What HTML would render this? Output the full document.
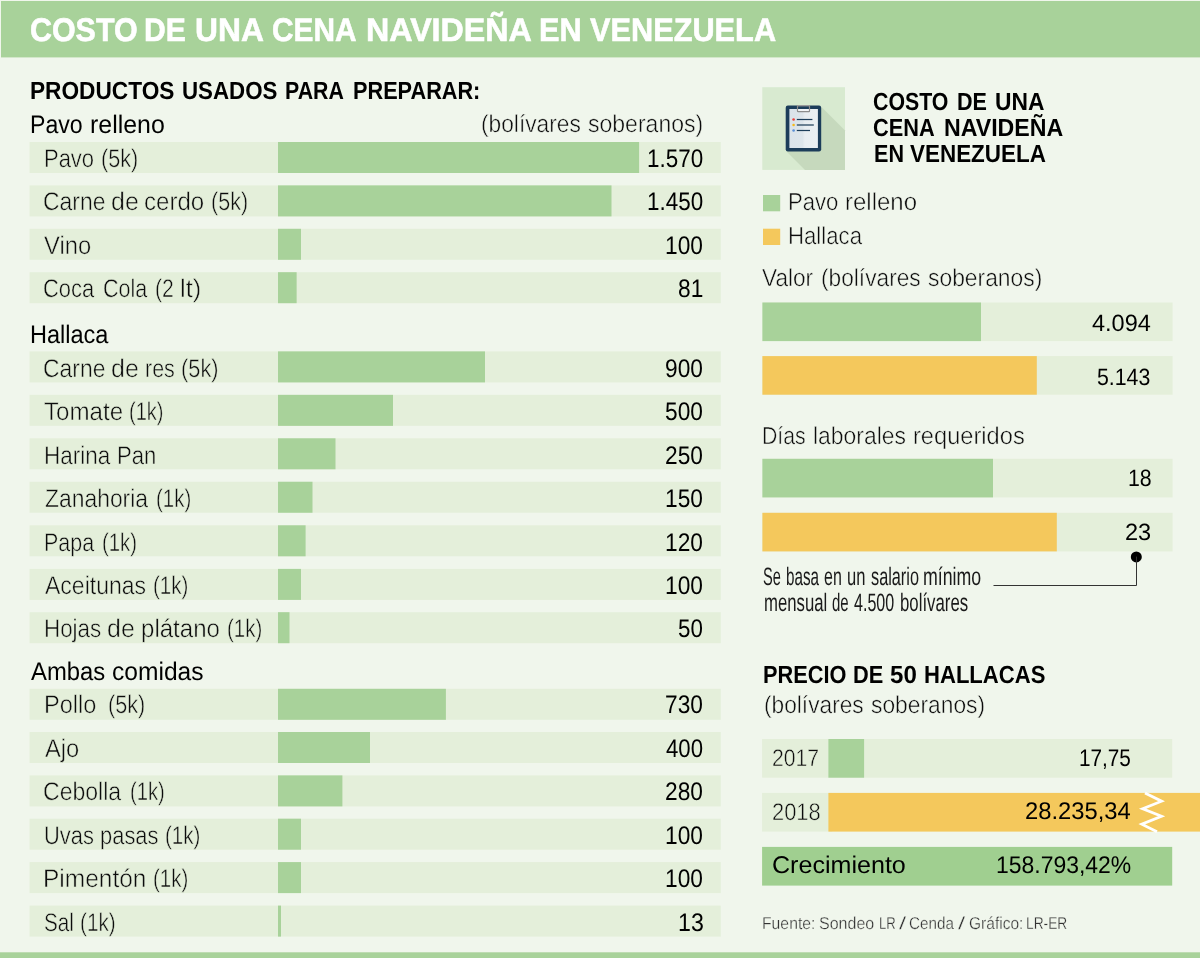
<!DOCTYPE html>
<html lang="es"><head><meta charset="utf-8"><title>Costo de una cena navideña en Venezuela</title>
<style>
html,body{margin:0;padding:0;background:#f0f6ec}
#w{width:1200px;height:958px;background:#f0f6ec;position:relative;overflow:hidden;will-change:transform;font-family:"Liberation Sans",sans-serif}
.t{position:absolute;white-space:pre;line-height:40px;transform-origin:0 0;text-rendering:geometricPrecision}
svg{position:absolute;left:0;top:0}
</style></head><body><div id="w">
<svg width="1200" height="958" viewBox="0 0 1200 958">
<rect x="1" y="1" width="1199" height="56.4" fill="#a8d29a"/>
<rect x="0" y="952.3" width="1200" height="6" fill="#a8d29a"/>
<rect x="29.6" y="142" width="691.2" height="31" fill="#e4efda"/>
<rect x="278" y="142" width="361.1" height="31" fill="#a8d29a"/>
<rect x="29.6" y="185.4" width="691.2" height="31" fill="#e4efda"/>
<rect x="278" y="185.4" width="333.5" height="31" fill="#a8d29a"/>
<rect x="29.6" y="228.8" width="691.2" height="31" fill="#e4efda"/>
<rect x="278" y="228.8" width="23" height="31" fill="#a8d29a"/>
<rect x="29.6" y="272.2" width="691.2" height="31" fill="#e4efda"/>
<rect x="278" y="272.2" width="18.63" height="31" fill="#a8d29a"/>
<rect x="29.6" y="351.4" width="691.2" height="31" fill="#e4efda"/>
<rect x="278" y="351.4" width="207" height="31" fill="#a8d29a"/>
<rect x="29.6" y="394.85" width="691.2" height="31" fill="#e4efda"/>
<rect x="278" y="394.85" width="115" height="31" fill="#a8d29a"/>
<rect x="29.6" y="438.3" width="691.2" height="31" fill="#e4efda"/>
<rect x="278" y="438.3" width="57.5" height="31" fill="#a8d29a"/>
<rect x="29.6" y="481.75" width="691.2" height="31" fill="#e4efda"/>
<rect x="278" y="481.75" width="34.5" height="31" fill="#a8d29a"/>
<rect x="29.6" y="525.3" width="691.2" height="31" fill="#e4efda"/>
<rect x="278" y="525.3" width="27.6" height="31" fill="#a8d29a"/>
<rect x="29.6" y="568.9" width="691.2" height="31" fill="#e4efda"/>
<rect x="278" y="568.9" width="23" height="31" fill="#a8d29a"/>
<rect x="29.6" y="612.2" width="691.2" height="31" fill="#e4efda"/>
<rect x="278" y="612.2" width="11.5" height="31" fill="#a8d29a"/>
<rect x="29.6" y="688.8" width="691.2" height="31" fill="#e4efda"/>
<rect x="278" y="688.8" width="167.9" height="31" fill="#a8d29a"/>
<rect x="29.6" y="732" width="691.2" height="31" fill="#e4efda"/>
<rect x="278" y="732" width="92" height="31" fill="#a8d29a"/>
<rect x="29.6" y="775.4" width="691.2" height="31" fill="#e4efda"/>
<rect x="278" y="775.4" width="64.4" height="31" fill="#a8d29a"/>
<rect x="29.6" y="818.7" width="691.2" height="31" fill="#e4efda"/>
<rect x="278" y="818.7" width="23" height="31" fill="#a8d29a"/>
<rect x="29.6" y="862.1" width="691.2" height="31" fill="#e4efda"/>
<rect x="278" y="862.1" width="23" height="31" fill="#a8d29a"/>
<rect x="29.6" y="905.6" width="691.2" height="31" fill="#e4efda"/>
<rect x="278" y="905.6" width="2.99" height="31" fill="#a8d29a"/>
<rect x="763" y="195" width="17.2" height="16.3" fill="#a8d29a"/>
<rect x="763" y="228.7" width="17.2" height="16.3" fill="#f4c85c"/>
<rect x="762.4" y="302.5" width="410.2" height="38.6" fill="#e4efda"/>
<rect x="762.4" y="302.5" width="218.6" height="38.6" fill="#a8d29a"/>
<rect x="762.4" y="356.1" width="410.2" height="38.6" fill="#e4efda"/>
<rect x="762.4" y="356.1" width="274.4" height="38.6" fill="#f4c85c"/>
<rect x="762.4" y="458.8" width="410.2" height="38.6" fill="#e4efda"/>
<rect x="762.4" y="458.8" width="230.6" height="38.6" fill="#a8d29a"/>
<rect x="762.4" y="512.8" width="410.2" height="38.6" fill="#e4efda"/>
<rect x="762.4" y="512.8" width="294.4" height="38.6" fill="#f4c85c"/>
<rect x="762.1" y="739" width="410.1" height="38.7" fill="#e4efda"/>
<rect x="828.4" y="739" width="35.7" height="38.7" fill="#a8d29a"/>
<rect x="762.1" y="792.9" width="70" height="38.7" fill="#e4efda"/>
<rect x="828.4" y="792.9" width="372" height="38.7" fill="#f4c85c"/>
<rect x="762.1" y="846.9" width="410.1" height="38.7" fill="#a0cf90"/>

<rect x="762.3" y="87.2" width="82.7" height="82.7" fill="#d8ead0"/>
<path d="M821.5 107 L845 130.5 L845 169.9 L805 169.9 L786.5 151.5 Z" fill="#c6d9bd"/>
<rect x="785.7" y="105.5" width="35.5" height="45.9" rx="2.2" fill="#1c3d5a"/>
<defs><linearGradient id="pg" x1="0" x2="1" y1="0" y2="0"><stop offset="0" stop-color="#dbe3ea"/><stop offset="0.46" stop-color="#dde5eb"/><stop offset="0.54" stop-color="#e8edf1"/><stop offset="1" stop-color="#eaeff2"/></linearGradient></defs>
<rect x="789.4" y="109" width="28.5" height="39" fill="url(#pg)"/>
<rect x="798" y="109" width="11" height="2.4" fill="#f3f5f7"/>
<rect x="797.5" y="105.6" width="12" height="6" rx="0.6" fill="none" stroke="#8d8d8d" stroke-width="1.2"/>
<rect x="797.2" y="105" width="12.6" height="1.2" fill="#9a9a9a"/>
<circle cx="793.6" cy="119.5" r="1.3" fill="#e8413c"/>
<circle cx="793.6" cy="125" r="1.3" fill="#f6b91a"/>
<circle cx="793.6" cy="130.5" r="1.3" fill="#5b8fd6"/>
<rect x="796.8" y="118.9" width="15.6" height="1.2" fill="#1c3d5a"/>
<rect x="796.8" y="124.2" width="17" height="1.6" fill="#4c667c"/>
<rect x="796.8" y="129.9" width="13.2" height="1.2" fill="#1c3d5a"/>
<path d="M1145 792.9 L1161.6 801.2 L1142.7 808.8 L1161.5 816.2 L1141.8 824.2 L1157 831.8" fill="none" stroke="#fff" stroke-width="2.8" stroke-linejoin="miter"/>
<circle cx="1136.3" cy="556.9" r="5.5" fill="#000"/>
<path d="M1136.5 556.6 V585.5 H993.5" fill="none" stroke="#333" stroke-width="1"/>
</svg>
<span class="t" style="left:29.82px;top:10px;font-size:32.7px;transform:scaleX(0.9303);color:#fff;font-weight:700;-webkit-text-stroke:0.6px #fff">COSTO</span>
<span class="t" style="left:143.91px;top:10px;font-size:32.7px;transform:scaleX(0.9212);color:#fff;font-weight:700;-webkit-text-stroke:0.6px #fff">DE</span>
<span class="t" style="left:194.78px;top:10px;font-size:32.7px;transform:scaleX(0.9717);color:#fff;font-weight:700;-webkit-text-stroke:0.6px #fff">UNA</span>
<span class="t" style="left:272.34px;top:10px;font-size:32.7px;transform:scaleX(0.9119);color:#fff;font-weight:700;-webkit-text-stroke:0.6px #fff">CENA</span>
<span class="t" style="left:365.53px;top:10px;font-size:32.7px;transform:scaleX(0.9853);color:#fff;font-weight:700;-webkit-text-stroke:0.6px #fff">NAVIDEÑA</span>
<span class="t" style="left:539.37px;top:10px;font-size:32.7px;transform:scaleX(0.9389);color:#fff;font-weight:700;-webkit-text-stroke:0.6px #fff">EN</span>
<span class="t" style="left:590.00px;top:10px;font-size:32.7px;transform:scaleX(0.9399);color:#fff;font-weight:700;-webkit-text-stroke:0.6px #fff">VENEZUELA</span>
<span class="t" style="left:30.09px;top:72px;font-size:24.8px;transform:scaleX(0.9141);color:#000;font-weight:700">PRODUCTOS</span>
<span class="t" style="left:181.50px;top:72px;font-size:24.8px;transform:scaleX(0.8991);color:#000;font-weight:700">USADOS</span>
<span class="t" style="left:285.14px;top:72px;font-size:24.8px;transform:scaleX(0.8591);color:#000;font-weight:700">PARA</span>
<span class="t" style="left:353.13px;top:72px;font-size:24.8px;transform:scaleX(0.8748);color:#000;font-weight:700">PREPARAR:</span>
<span class="t" style="left:29.58px;top:105px;font-size:25.4px;transform:scaleX(0.9112);color:#000">Pavo</span>
<span class="t" style="left:89.52px;top:105px;font-size:25.4px;transform:scaleX(0.9814);color:#000">relleno</span>
<span class="t" style="left:481.24px;top:105px;font-size:24.6px;transform:scaleX(0.9248);color:#0c0c0c;-webkit-text-stroke:0.5px #f0f6ec">(bolívares</span>
<span class="t" style="left:588.17px;top:105px;font-size:24.6px;transform:scaleX(0.9361);color:#0c0c0c;-webkit-text-stroke:0.5px #f0f6ec">soberanos)</span>
<span class="t" style="left:29.75px;top:315px;font-size:25.4px;transform:scaleX(0.9263);color:#000">Hallaca</span>
<span class="t" style="left:31.00px;top:652px;font-size:25.4px;transform:scaleX(0.9384);color:#000">Ambas</span>
<span class="t" style="left:111.63px;top:652px;font-size:25.4px;transform:scaleX(0.9682);color:#000">comidas</span>
<span class="t" style="left:43.65px;top:139px;font-size:25.4px;transform:scaleX(0.8651);color:#0c0c0c;-webkit-text-stroke:0.5px #e4efda">Pavo</span>
<span class="t" style="left:100.53px;top:139px;font-size:25.4px;transform:scaleX(0.8535);color:#0c0c0c;-webkit-text-stroke:0.5px #e4efda">(5k)</span>
<span class="t" style="left:647.14px;top:139px;font-size:25.4px;transform:scaleX(0.8840);color:#000">1.570</span>
<span class="t" style="left:43.27px;top:182px;font-size:25.4px;transform:scaleX(0.9018);color:#0c0c0c;-webkit-text-stroke:0.5px #e4efda">Carne</span>
<span class="t" style="left:111.17px;top:182px;font-size:25.4px;transform:scaleX(0.9836);color:#0c0c0c;-webkit-text-stroke:0.5px #e4efda">de</span>
<span class="t" style="left:143.82px;top:182px;font-size:25.4px;transform:scaleX(0.9468);color:#0c0c0c;-webkit-text-stroke:0.5px #e4efda">cerdo</span>
<span class="t" style="left:210.54px;top:182px;font-size:25.4px;transform:scaleX(0.8486);color:#0c0c0c;-webkit-text-stroke:0.5px #e4efda">(5k)</span>
<span class="t" style="left:647.14px;top:182px;font-size:25.4px;transform:scaleX(0.8840);color:#000">1.450</span>
<span class="t" style="left:44.17px;top:226px;font-size:25.4px;transform:scaleX(0.9369);color:#0c0c0c;-webkit-text-stroke:0.5px #e4efda">Vino</span>
<span class="t" style="left:665.42px;top:226px;font-size:25.4px;transform:scaleX(0.8945);color:#000">100</span>
<span class="t" style="left:43.32px;top:269px;font-size:25.4px;transform:scaleX(0.8627);color:#0c0c0c;-webkit-text-stroke:0.5px #e4efda">Coca</span>
<span class="t" style="left:102.54px;top:269px;font-size:25.4px;transform:scaleX(0.8489);color:#0c0c0c;-webkit-text-stroke:0.5px #e4efda">Cola</span>
<span class="t" style="left:154.96px;top:269px;font-size:25.4px;transform:scaleX(0.8319);color:#0c0c0c;-webkit-text-stroke:0.5px #e4efda">(2</span>
<span class="t" style="left:179.75px;top:269px;font-size:25.4px;transform:scaleX(1.0003);color:#0c0c0c;-webkit-text-stroke:0.5px #e4efda">lt)</span>
<span class="t" style="left:678.45px;top:269px;font-size:25.4px;transform:scaleX(0.8943);color:#000">81</span>
<span class="t" style="left:43.27px;top:349px;font-size:25.4px;transform:scaleX(0.9018);color:#0c0c0c;-webkit-text-stroke:0.5px #e4efda">Carne</span>
<span class="t" style="left:111.17px;top:349px;font-size:25.4px;transform:scaleX(0.9836);color:#0c0c0c;-webkit-text-stroke:0.5px #e4efda">de</span>
<span class="t" style="left:144.54px;top:349px;font-size:25.4px;transform:scaleX(0.8465);color:#0c0c0c;-webkit-text-stroke:0.5px #e4efda">res</span>
<span class="t" style="left:180.93px;top:349px;font-size:25.4px;transform:scaleX(0.8584);color:#0c0c0c;-webkit-text-stroke:0.5px #e4efda">(5k)</span>
<span class="t" style="left:665.42px;top:349px;font-size:25.4px;transform:scaleX(0.8945);color:#000">900</span>
<span class="t" style="left:43.76px;top:392px;font-size:25.4px;transform:scaleX(0.9505);color:#0c0c0c;-webkit-text-stroke:0.5px #e4efda">Tomate</span>
<span class="t" style="left:129.41px;top:392px;font-size:25.4px;transform:scaleX(0.7898);color:#0c0c0c;-webkit-text-stroke:0.5px #e4efda">(1k)</span>
<span class="t" style="left:665.42px;top:392px;font-size:25.4px;transform:scaleX(0.8945);color:#000">500</span>
<span class="t" style="left:43.61px;top:436px;font-size:25.4px;transform:scaleX(0.8856);color:#0c0c0c;-webkit-text-stroke:0.5px #e4efda">Harina</span>
<span class="t" style="left:117.04px;top:436px;font-size:25.4px;transform:scaleX(0.8711);color:#0c0c0c;-webkit-text-stroke:0.5px #e4efda">Pan</span>
<span class="t" style="left:665.42px;top:436px;font-size:25.4px;transform:scaleX(0.8945);color:#000">250</span>
<span class="t" style="left:44.77px;top:479px;font-size:25.4px;transform:scaleX(0.9014);color:#0c0c0c;-webkit-text-stroke:0.5px #e4efda">Zanahoria</span>
<span class="t" style="left:155.99px;top:479px;font-size:25.4px;transform:scaleX(0.8045);color:#0c0c0c;-webkit-text-stroke:0.5px #e4efda">(1k)</span>
<span class="t" style="left:665.42px;top:479px;font-size:25.4px;transform:scaleX(0.8945);color:#000">150</span>
<span class="t" style="left:43.70px;top:523px;font-size:25.4px;transform:scaleX(0.8461);color:#0c0c0c;-webkit-text-stroke:0.5px #e4efda">Papa</span>
<span class="t" style="left:102.00px;top:523px;font-size:25.4px;transform:scaleX(0.8020);color:#0c0c0c;-webkit-text-stroke:0.5px #e4efda">(1k)</span>
<span class="t" style="left:665.42px;top:523px;font-size:25.4px;transform:scaleX(0.8945);color:#000">120</span>
<span class="t" style="left:44.77px;top:566px;font-size:25.4px;transform:scaleX(0.9065);color:#0c0c0c;-webkit-text-stroke:0.5px #e4efda">Aceitunas</span>
<span class="t" style="left:152.99px;top:566px;font-size:25.4px;transform:scaleX(0.8094);color:#0c0c0c;-webkit-text-stroke:0.5px #e4efda">(1k)</span>
<span class="t" style="left:665.42px;top:566px;font-size:25.4px;transform:scaleX(0.8945);color:#000">100</span>
<span class="t" style="left:43.62px;top:609px;font-size:25.4px;transform:scaleX(0.8814);color:#0c0c0c;-webkit-text-stroke:0.5px #e4efda">Hojas</span>
<span class="t" style="left:107.17px;top:609px;font-size:25.4px;transform:scaleX(0.9836);color:#0c0c0c;-webkit-text-stroke:0.5px #e4efda">de</span>
<span class="t" style="left:140.82px;top:609px;font-size:25.4px;transform:scaleX(0.9476);color:#0c0c0c;-webkit-text-stroke:0.5px #e4efda">plátano</span>
<span class="t" style="left:226.99px;top:609px;font-size:25.4px;transform:scaleX(0.8045);color:#0c0c0c;-webkit-text-stroke:0.5px #e4efda">(1k)</span>
<span class="t" style="left:678.46px;top:609px;font-size:25.4px;transform:scaleX(0.8798);color:#000">50</span>
<span class="t" style="left:43.51px;top:685px;font-size:25.4px;transform:scaleX(0.9287);color:#0c0c0c;-webkit-text-stroke:0.5px #e4efda">Pollo</span>
<span class="t" style="left:107.93px;top:685px;font-size:25.4px;transform:scaleX(0.8535);color:#0c0c0c;-webkit-text-stroke:0.5px #e4efda">(5k)</span>
<span class="t" style="left:665.42px;top:685px;font-size:25.4px;transform:scaleX(0.8945);color:#000">730</span>
<span class="t" style="left:44.77px;top:729px;font-size:25.4px;transform:scaleX(0.9341);color:#0c0c0c;-webkit-text-stroke:0.5px #e4efda">Ajo</span>
<span class="t" style="left:666.31px;top:729px;font-size:25.4px;transform:scaleX(0.8733);color:#000">400</span>
<span class="t" style="left:43.27px;top:772px;font-size:25.4px;transform:scaleX(0.9078);color:#0c0c0c;-webkit-text-stroke:0.5px #e4efda">Cebolla</span>
<span class="t" style="left:130.00px;top:772px;font-size:25.4px;transform:scaleX(0.7971);color:#0c0c0c;-webkit-text-stroke:0.5px #e4efda">(1k)</span>
<span class="t" style="left:665.42px;top:772px;font-size:25.4px;transform:scaleX(0.8945);color:#000">280</span>
<span class="t" style="left:43.92px;top:816px;font-size:25.4px;transform:scaleX(0.8625);color:#0c0c0c;-webkit-text-stroke:0.5px #e4efda">Uvas</span>
<span class="t" style="left:99.92px;top:816px;font-size:25.4px;transform:scaleX(0.8634);color:#0c0c0c;-webkit-text-stroke:0.5px #e4efda">pasas</span>
<span class="t" style="left:164.59px;top:816px;font-size:25.4px;transform:scaleX(0.8094);color:#0c0c0c;-webkit-text-stroke:0.5px #e4efda">(1k)</span>
<span class="t" style="left:665.42px;top:816px;font-size:25.4px;transform:scaleX(0.8945);color:#000">100</span>
<span class="t" style="left:43.43px;top:859px;font-size:25.4px;transform:scaleX(0.9648);color:#0c0c0c;-webkit-text-stroke:0.5px #e4efda">Pimentón</span>
<span class="t" style="left:152.59px;top:859px;font-size:25.4px;transform:scaleX(0.8069);color:#0c0c0c;-webkit-text-stroke:0.5px #e4efda">(1k)</span>
<span class="t" style="left:665.42px;top:859px;font-size:25.4px;transform:scaleX(0.8945);color:#000">100</span>
<span class="t" style="left:43.98px;top:903px;font-size:25.4px;transform:scaleX(0.8165);color:#0c0c0c;-webkit-text-stroke:0.5px #e4efda">Sal</span>
<span class="t" style="left:79.98px;top:903px;font-size:25.4px;transform:scaleX(0.8143);color:#0c0c0c;-webkit-text-stroke:0.5px #e4efda">(1k)</span>
<span class="t" style="left:678.43px;top:903px;font-size:25.4px;transform:scaleX(0.9134);color:#000">13</span>
<span class="t" style="left:872.64px;top:83px;font-size:24.8px;transform:scaleX(0.8596);color:#000;font-weight:700">COSTO</span>
<span class="t" style="left:957.33px;top:83px;font-size:24.8px;transform:scaleX(0.8691);color:#000;font-weight:700">DE</span>
<span class="t" style="left:995.28px;top:83px;font-size:24.8px;transform:scaleX(0.9202);color:#000;font-weight:700">UNA</span>
<span class="t" style="left:872.62px;top:109px;font-size:24.8px;transform:scaleX(0.8767);color:#000;font-weight:700">CENA</span>
<span class="t" style="left:943.77px;top:109px;font-size:24.8px;transform:scaleX(0.9341);color:#000;font-weight:700">NAVIDEÑA</span>
<span class="t" style="left:873.63px;top:135px;font-size:24.8px;transform:scaleX(0.8697);color:#000;font-weight:700">EN</span>
<span class="t" style="left:910.10px;top:135px;font-size:24.8px;transform:scaleX(0.9051);color:#000;font-weight:700">VENEZUELA</span>
<span class="t" style="left:788.48px;top:183px;font-size:24.6px;transform:scaleX(0.8983);color:#0c0c0c;-webkit-text-stroke:0.5px #f0f6ec">Pavo</span>
<span class="t" style="left:845.03px;top:183px;font-size:24.6px;transform:scaleX(0.9749);color:#0c0c0c;-webkit-text-stroke:0.5px #f0f6ec">relleno</span>
<span class="t" style="left:788.47px;top:217px;font-size:24.6px;transform:scaleX(0.9018);color:#0c0c0c;-webkit-text-stroke:0.5px #f0f6ec">Hallaca</span>
<span class="t" style="left:762.27px;top:259px;font-size:24.6px;transform:scaleX(0.9199);color:#0c0c0c;-webkit-text-stroke:0.5px #f0f6ec">Valor</span>
<span class="t" style="left:820.85px;top:259px;font-size:24.6px;transform:scaleX(0.9229);color:#0c0c0c;-webkit-text-stroke:0.5px #f0f6ec">(bolívares</span>
<span class="t" style="left:927.77px;top:259px;font-size:24.6px;transform:scaleX(0.9291);color:#0c0c0c;-webkit-text-stroke:0.5px #f0f6ec">soberanos)</span>
<span class="t" style="left:1092.10px;top:304px;font-size:23.6px;transform:scaleX(0.9963);color:#000">4.094</span>
<span class="t" style="left:1097.10px;top:358px;font-size:23.6px;transform:scaleX(0.9029);color:#000">5.143</span>
<span class="t" style="left:761.81px;top:417px;font-size:24.6px;transform:scaleX(0.8635);color:#0c0c0c;-webkit-text-stroke:0.5px #f0f6ec">Días</span>
<span class="t" style="left:812.59px;top:417px;font-size:24.6px;transform:scaleX(0.9311);color:#0c0c0c;-webkit-text-stroke:0.5px #f0f6ec">laborales</span>
<span class="t" style="left:912.55px;top:417px;font-size:24.6px;transform:scaleX(0.9614);color:#0c0c0c;-webkit-text-stroke:0.5px #f0f6ec">requeridos</span>
<span class="t" style="left:1127.50px;top:459px;font-size:23.6px;transform:scaleX(0.9036);color:#000">18</span>
<span class="t" style="left:1124.50px;top:513px;font-size:23.6px;transform:scaleX(0.9991);color:#000">23</span>
<span class="t" style="left:763.42px;top:557px;font-size:25.2px;transform:scaleX(0.5799);color:#1a1a1a">Se</span>
<span class="t" style="left:785.60px;top:557px;font-size:25.2px;transform:scaleX(0.6043);color:#1a1a1a">basa</span>
<span class="t" style="left:824.37px;top:557px;font-size:25.2px;transform:scaleX(0.6344);color:#1a1a1a">en</span>
<span class="t" style="left:846.94px;top:557px;font-size:25.2px;transform:scaleX(0.6575);color:#1a1a1a">un</span>
<span class="t" style="left:870.60px;top:557px;font-size:25.2px;transform:scaleX(0.6463);color:#1a1a1a">salario</span>
<span class="t" style="left:923.49px;top:557px;font-size:25.2px;transform:scaleX(0.7050);color:#1a1a1a">mínimo</span>
<span class="t" style="left:763.84px;top:583px;font-size:25.2px;transform:scaleX(0.6641);color:#1a1a1a">mensual</span>
<span class="t" style="left:831.80px;top:583px;font-size:25.2px;transform:scaleX(0.5960);color:#1a1a1a">de</span>
<span class="t" style="left:854.00px;top:583px;font-size:25.2px;transform:scaleX(0.6379);color:#1a1a1a">4.500</span>
<span class="t" style="left:900.13px;top:583px;font-size:25.2px;transform:scaleX(0.6669);color:#1a1a1a">bolívares</span>
<span class="t" style="left:762.82px;top:656px;font-size:24.8px;transform:scaleX(0.8765);color:#000;font-weight:700">PRECIO</span>
<span class="t" style="left:852.52px;top:656px;font-size:24.8px;transform:scaleX(0.8782);color:#000;font-weight:700">DE</span>
<span class="t" style="left:889.70px;top:656px;font-size:24.8px;transform:scaleX(0.9705);color:#000;font-weight:700">50</span>
<span class="t" style="left:924.11px;top:656px;font-size:24.8px;transform:scaleX(0.8900);color:#000;font-weight:700">HALLACAS</span>
<span class="t" style="left:763.85px;top:686px;font-size:24.6px;transform:scaleX(0.9229);color:#0c0c0c;-webkit-text-stroke:0.5px #f0f6ec">(bolívares</span>
<span class="t" style="left:871.02px;top:686px;font-size:24.6px;transform:scaleX(0.9271);color:#0c0c0c;-webkit-text-stroke:0.5px #f0f6ec">soberanos)</span>
<span class="t" style="left:771.70px;top:739px;font-size:24px;transform:scaleX(0.8828);color:#0c0c0c;-webkit-text-stroke:0.5px #e4efda">2017</span>
<span class="t" style="left:1078.54px;top:739px;font-size:24.1px;transform:scaleX(0.8609);color:#000">17,75</span>
<span class="t" style="left:771.66px;top:793px;font-size:24px;transform:scaleX(0.9119);color:#0c0c0c;-webkit-text-stroke:0.5px #e4efda">2018</span>
<span class="t" style="left:1025.21px;top:792px;font-size:24.1px;transform:scaleX(0.9859);color:#000">28.235,34</span>
<span class="t" style="left:771.76px;top:846px;font-size:24.2px;transform:scaleX(1.0369);color:#000">Crecimiento</span>
<span class="t" style="left:996.25px;top:846px;font-size:24.1px;transform:scaleX(0.9517);color:#000">158.793,42%</span>
<span class="t" style="left:762.16px;top:903px;font-size:17.2px;transform:scaleX(0.9159);color:#333;-webkit-text-stroke:0.3px #f0f6ec">Fuente:</span>
<span class="t" style="left:819.17px;top:903px;font-size:17.2px;transform:scaleX(0.9330);color:#333;-webkit-text-stroke:0.3px #f0f6ec">Sondeo</span>
<span class="t" style="left:878.75px;top:903px;font-size:17.2px;transform:scaleX(0.7628);color:#333;-webkit-text-stroke:0.3px #f0f6ec">LR</span>
<span class="t" style="left:898.63px;top:903px;font-size:17.2px;transform:scaleX(1.4889);color:#333;-webkit-text-stroke:0.3px #f0f6ec">/</span>
<span class="t" style="left:909.28px;top:903px;font-size:17.2px;transform:scaleX(0.8856);color:#333;-webkit-text-stroke:0.3px #f0f6ec">Cenda</span>
<span class="t" style="left:958.13px;top:903px;font-size:17.2px;transform:scaleX(1.4889);color:#333;-webkit-text-stroke:0.3px #f0f6ec">/</span>
<span class="t" style="left:969.17px;top:903px;font-size:17.2px;transform:scaleX(0.9033);color:#333;-webkit-text-stroke:0.3px #f0f6ec">Gráfico:</span>
<span class="t" style="left:1025.80px;top:903px;font-size:17.2px;transform:scaleX(0.7995);color:#333;-webkit-text-stroke:0.3px #f0f6ec">LR-ER</span>
</div></body></html>
